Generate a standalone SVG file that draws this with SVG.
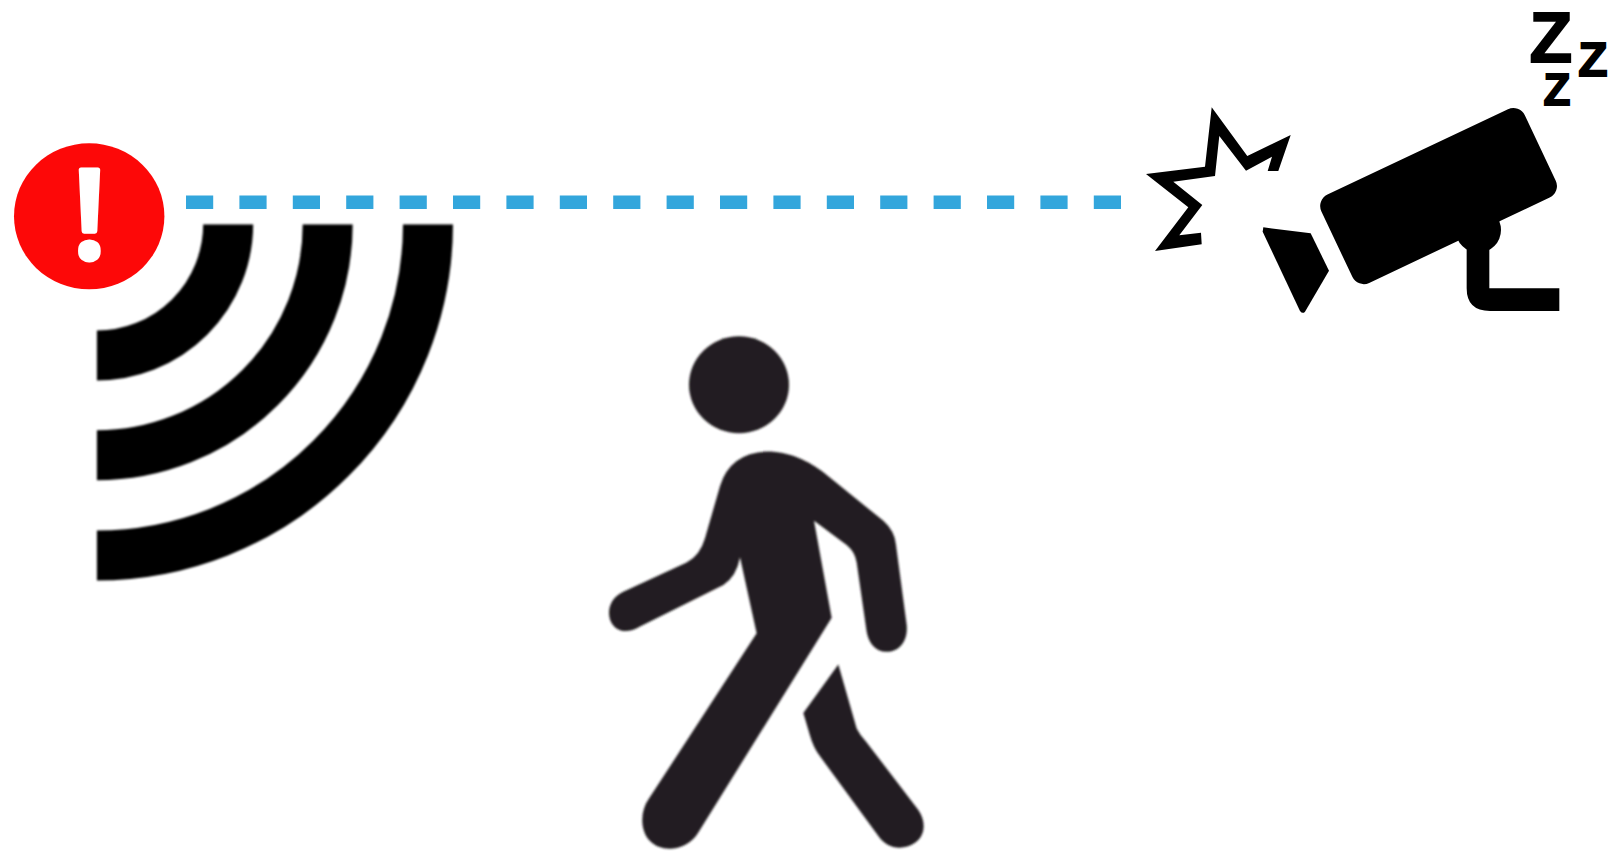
<svg xmlns="http://www.w3.org/2000/svg" width="1609" height="863" viewBox="0 0 1609 863">
<style>
.ic{fill:#000}
.z{font-family:"Liberation Sans",Arial,sans-serif;font-weight:700;fill:#000;stroke:#000;stroke-width:1.8}
.wave{fill:none;stroke:#000;stroke-width:50}
.w{fill:#231f20}
</style>
<defs>
<filter id="soft" filterUnits="userSpaceOnUse" x="0" y="0" width="1609" height="863"><feGaussianBlur stdDeviation="1.2"/></filter>
<clipPath id="waveclip"><rect x="96.7" y="224.3" width="400" height="400"/></clipPath>
</defs>
<rect width="1609" height="863" fill="#fff"/>
<g id="connectors">
<line x1="186" y1="202.3" x2="1121" y2="202.3" stroke="#33a6dc" stroke-width="13.4" stroke-dasharray="27.2 26.2"/>
</g>
<g id="alarm">
<ellipse cx="89.2" cy="216.3" rx="75.2" ry="73" fill="#fd0808"/>
<text x="89.5" y="258.2" text-anchor="middle" font-family="Open Sans,Liberation Sans,sans-serif" font-weight="600" font-size="123" fill="#fff" stroke="#fff" stroke-width="5" stroke-linejoin="round">!</text>
</g>
<g id="signal" filter="url(#soft)">
<g clip-path="url(#waveclip)">
<path class="wave" d="M96.7 355.5A131.5 131.5 0 0 0 228.2 224.3"/>
<path class="wave" d="M96.7 455.3A231 231 0 0 0 327.7 224.3"/>
<path class="wave" d="M96.7 555.5A331.5 331.5 0 0 0 428 224.3"/>
</g>
</g>
<g id="walker" filter="url(#soft)">
<g transform="translate(590 320) scale(.33333 .34626)">
<ellipse class="w" cx="447" cy="187" rx="150" ry="140"/>
<path class="w" d="M530 380C600 380 660 410 700 440L880 580Q915 610 918 650L950 880C955 930 925 958 890 958C855 958 835 930 830 900L800 700Q795 670 770 650L672 580L725 860L325 1480C290 1535 215 1540 180 1505C150 1475 150 1420 175 1385L500 905L450 685Q440 740 400 765L150 885C115 905 80 905 62 870C48 835 65 800 100 785L290 700Q330 680 345 630L390 480Q420 385 530 380Z"/>
<path class="w" d="M745 995L800 1180Q810 1200 830 1220L985 1415C1010 1450 1005 1490 975 1510C935 1535 890 1525 865 1490L690 1260Q670 1235 660 1200L640 1135Z"/>
</g>
</g>
<g id="camera" transform="translate(1120 0) scale(.33333)">
<rect class="ic" x="0" y="0" width="675" height="293" rx="38" transform="translate(588 600) rotate(-25.3)"/>
<circle class="ic" cx="1075" cy="690" r="68"/>
<path class="ic" d="M1040 730H1108V865H1318V933H1110Q1040 933 1040 865Z"/>
<path class="ic" d="M430 682L572 700L627 812L555 935Q548 943 540 933L428 695Z"/>
</g>
<g id="flash">
<path class="ic" d="M1211.7 107.3L1247.3 156L1290.7 135L1278.3 171L1267.7 171L1272 156.7L1246 170.7L1219.3 136L1215 176L1173.3 181.7L1202.3 205L1179.3 235.3L1201 232.7L1201.7 244.3L1155 251L1188.3 207.3L1146 174L1205 166.7Z"/>
</g>
<g id="sleep">
<text class="z" x="1551" y="61.5" text-anchor="middle" font-size="70">Z</text>
<text class="z" x="1593" y="76" text-anchor="middle" font-size="48">Z</text>
<text class="z" x="1557" y="104.5" text-anchor="middle" font-size="44">Z</text>
</g>
</svg>
